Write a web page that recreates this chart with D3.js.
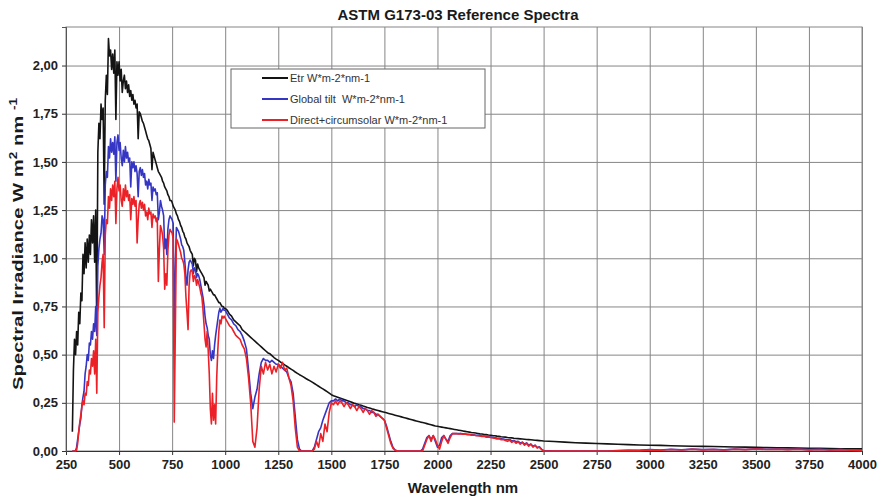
<!DOCTYPE html>
<html>
<head>
<meta charset="utf-8">
<script src="https://cdn.jsdelivr.net/npm/d3@7"></script>
<style>
  body { margin: 0; background: #fff; }
  text { font-family: "Liberation Sans", Arial, Helvetica, sans-serif; }
</style>
</head>
<body>
<svg id="chart" width="880" height="499"></svg>
<script>
// Wavelength sampling grid, nm
const wavelength = [
  280,285,290,295,300,305,310,315,320,325,
  330,335,340,345,350,355,360,365,370,375,
  380,385,390,395,400,405,410,415,420,425,
  430,435,440,445,450,455,460,465,470,475,
  480,485,490,495,500,505,510,515,520,525,
  530,535,540,545,550,555,560,565,570,575,
  580,585,590,595,600,605,610,615,620,625,
  630,635,640,645,650,655,660,665,670,675,
  680,685,690,695,700,705,710,715,720,725,
  730,735,740,745,750,755,760,765,770,775,
  780,785,790,795,800,805,810,815,820,825,
  830,835,840,845,850,855,860,865,870,875,
  880,885,890,895,900,905,910,915,920,925,
  930,935,940,945,950,955,960,965,970,975,
  980,985,990,995,1000,
  1010,1020,1030,1040,1050,1060,1070,1080,1090,1100,
  1110,1120,1130,1140,1150,1160,1170,1180,1190,1200,
  1210,1220,1230,1240,1250,1260,1270,1280,1290,1300,
  1310,1320,1330,1340,1350,1360,1370,1380,1390,1400,
  1410,1420,1430,1440,1450,1460,1470,1480,1490,1500,
  1510,1520,1530,1540,1550,1560,1570,1580,1590,1600,
  1610,1620,1630,1640,1650,1660,1670,1680,1690,1700,
  1710,1720,1730,1740,1750,1760,1770,1780,1790,1800,
  1810,1820,1830,1840,1850,1860,1870,1880,1890,1900,
  1910,1920,1930,1940,1950,1960,1970,1980,1990,2000,
  2010,2020,2030,2040,2050,2060,2070,2080,2090,2100,
  2110,2120,2130,2140,2150,2160,2170,2180,2190,2200,
  2210,2220,2230,2240,2250,2260,2270,2280,2290,2300,
  2310,2320,2330,2340,2350,2360,2370,2380,2390,2400,
  2410,2420,2430,2440,2450,2460,2470,2480,2490,2500,
  2550,2600,2650,2700,2750,2800,2850,2900,2950,3000,
  3050,3100,3150,3200,3250,3300,3350,3400,3450,3500,
  3550,3600,3650,3700,3750,3800,3850,3900,3950,4000
];

// Extraterrestrial spectrum, W m-2 nm-1
const etr = [
  0.10,0.42,0.58,0.50,0.62,0.55,0.72,0.66,0.82,0.78,
  1.02,0.92,1.08,0.95,1.10,0.98,1.12,1.02,1.20,1.08,
  1.22,0.98,1.25,0.62,1.55,1.70,1.62,1.80,1.72,1.78,
  1.28,1.82,1.95,1.85,2.14,2.05,2.08,1.98,2.06,1.96,
  2.08,1.72,2.02,1.95,2.02,1.92,1.98,1.86,1.92,1.95,
  1.88,1.92,1.86,1.90,1.84,1.87,1.82,1.85,1.80,1.82,
  1.78,1.80,1.62,1.76,1.75,1.73,1.71,1.70,1.68,1.66,
  1.64,1.62,1.61,1.59,1.57,1.46,1.55,1.53,1.51,1.49,
  1.47,1.45,1.44,1.43,1.42,1.40,1.39,1.37,1.36,1.35,
  1.33,1.32,1.30,1.30,1.29,1.27,1.26,1.25,1.23,1.22,
  1.20,1.19,1.17,1.16,1.14,1.13,1.11,1.10,1.08,1.07,
  1.06,1.04,1.03,1.02,0.96,1.00,0.99,0.93,0.97,0.95,
  0.94,0.93,0.92,0.91,0.90,0.86,0.88,0.87,0.86,0.83,
  0.84,0.83,0.82,0.81,0.81,0.80,0.79,0.78,0.77,0.77,
  0.76,0.75,0.75,0.74,0.74,
  0.73,0.71,0.70,0.68,0.67,0.66,0.65,0.63,0.62,0.61,
  0.60,0.59,0.58,0.57,0.56,0.55,0.54,0.53,0.52,0.51,
  0.505,0.495,0.485,0.477,0.47,0.462,0.455,0.447,0.44,0.432,
  0.425,0.418,0.41,0.403,0.396,0.39,0.383,0.376,0.37,0.364,
  0.357,0.35,0.343,0.336,0.329,0.322,0.315,0.308,0.300,0.292,
  0.287,0.283,0.279,0.275,0.271,0.267,0.263,0.259,0.255,0.251,
  0.247,0.244,0.240,0.237,0.233,0.230,0.226,0.223,0.219,0.216,
  0.213,0.210,0.207,0.204,0.201,0.198,0.195,0.192,0.189,0.186,
  0.183,0.180,0.177,0.174,0.171,0.168,0.165,0.162,0.159,0.156,
  0.153,0.150,0.148,0.145,0.142,0.139,0.136,0.133,0.130,0.128,
  0.126,0.124,0.122,0.120,0.118,0.116,0.114,0.112,0.110,0.108,
  0.106,0.104,0.102,0.100,0.098,0.096,0.095,0.093,0.091,0.089,
  0.088,0.086,0.085,0.083,0.082,0.080,0.079,0.077,0.076,0.074,
  0.073,0.072,0.070,0.069,0.068,0.066,0.065,0.064,0.063,0.062,
  0.061,0.060,0.059,0.058,0.057,0.056,0.055,0.054,0.053,0.052,
  0.049,0.046,0.043,0.041,0.039,0.037,0.035,0.033,0.031,0.030,
  0.029,0.027,0.026,0.025,0.024,0.023,0.022,0.021,0.020,0.019,
  0.018,0.017,0.016,0.015,0.014,0.0135,0.013,0.012,0.0115,0.011
];

// Global tilt (37 deg) spectrum, W m-2 nm-1
const globalTilt = [
  0,0,0,0,0.02,0.06,0.10,0.14,0.17,0.24,
  0.28,0.31,0.40,0.44,0.50,0.47,0.56,0.55,0.62,0.58,
  0.66,0.62,0.75,0.60,0.96,1.05,1.10,1.13,1.22,1.20,
  1.02,1.38,1.45,1.42,1.58,1.52,1.62,1.55,1.60,1.54,
  1.63,1.40,1.60,1.64,1.56,1.60,1.52,1.48,1.56,1.50,
  1.58,1.52,1.55,1.50,1.52,1.37,1.50,1.47,1.50,1.45,
  1.48,1.44,1.32,1.45,1.47,1.43,1.46,1.42,1.44,1.38,
  1.40,1.36,1.41,1.38,1.39,1.30,1.37,1.35,1.36,1.33,
  1.34,1.20,1.24,1.30,1.27,1.25,1.22,1.05,1.10,1.02,
  1.15,1.20,1.22,1.21,1.20,1.18,0.55,0.95,1.16,1.15,
  1.14,1.12,1.10,1.07,1.06,1.04,0.98,0.90,0.86,0.94,
  0.98,0.99,0.98,0.97,0.92,0.95,0.94,0.90,0.92,0.91,
  0.89,0.86,0.83,0.80,0.76,0.70,0.66,0.64,0.60,0.58,
  0.50,0.47,0.52,0.48,0.55,0.60,0.64,0.68,0.72,0.74,
  0.72,0.73,0.74,0.73,0.73,
  0.71,0.69,0.68,0.66,0.65,0.63,0.62,0.60,0.57,0.53,
  0.42,0.30,0.22,0.28,0.32,0.40,0.46,0.48,0.47,0.47,
  0.46,0.47,0.46,0.45,0.45,0.44,0.43,0.42,0.41,0.38,
  0.36,0.30,0.18,0.06,0.01,0,0,0,0,0,
  0,0.02,0.06,0.10,0.12,0.16,0.19,0.22,0.25,0.26,
  0.26,0.27,0.26,0.27,0.26,0.26,0.25,0.25,0.24,0.24,
  0.23,0.24,0.23,0.23,0.22,0.22,0.21,0.21,0.20,0.20,
  0.19,0.19,0.18,0.17,0.16,0.13,0.09,0.05,0.02,0.005,
  0,0,0,0,0,0,0,0,0,0,
  0,0,0.01,0.04,0.07,0.08,0.06,0.08,0.05,0.02,
  0.03,0.07,0.08,0.06,0.05,0.08,0.09,0.09,0.09,0.09,
  0.09,0.089,0.088,0.087,0.086,0.085,0.084,0.082,0.081,0.08,
  0.078,0.077,0.076,0.074,0.073,0.071,0.069,0.067,0.066,0.064,
  0.062,0.06,0.058,0.06,0.052,0.055,0.048,0.05,0.042,0.046,
  0.036,0.042,0.03,0.036,0.024,0.03,0.018,0.022,0.01,0.002,
  0,0,0,0,0,0,0.002,0.004,0.003,0.007,
  0.005,0.009,0.006,0.01,0.007,0.009,0.006,0.01,0.008,0.011,
  0.009,0.01,0.008,0.01,0.007,0.009,0.006,0.008,0.005,0.003
];

// Direct normal + circumsolar spectrum, W m-2 nm-1
const directCircumsolar = [
  0,0,0,0,0.005,0.04,0.10,0.15,0.19,0.23,
  0.26,0.24,0.30,0.29,0.36,0.34,0.42,0.40,0.48,0.44,
  0.52,0.40,0.58,0.30,0.72,0.80,0.86,0.90,0.98,1.02,
  0.64,1.12,1.20,1.18,1.32,1.26,1.36,1.30,1.38,1.32,
  1.40,1.18,1.36,1.42,1.35,1.38,1.30,1.27,1.36,1.30,
  1.38,1.32,1.35,1.30,1.33,1.20,1.31,1.28,1.32,1.27,
  1.30,1.08,1.20,1.28,1.30,1.26,1.29,1.25,1.28,1.22,
  1.24,1.20,1.26,1.23,1.24,1.16,1.23,1.21,1.22,1.19,
  1.21,0.88,1.05,1.17,1.15,1.12,1.05,0.84,0.92,0.86,
  1.04,1.12,1.15,1.14,1.13,1.10,0.15,0.62,1.10,1.09,
  1.07,1.05,1.03,1.00,0.99,0.97,0.92,0.80,0.72,0.63,
  0.86,0.93,0.94,0.93,0.88,0.91,0.90,0.86,0.89,0.87,
  0.85,0.82,0.80,0.74,0.66,0.58,0.54,0.62,0.52,0.40,
  0.22,0.14,0.30,0.16,0.24,0.14,0.38,0.52,0.62,0.68,
  0.66,0.70,0.69,0.70,0.69,
  0.67,0.65,0.64,0.62,0.60,0.59,0.58,0.55,0.53,0.48,
  0.38,0.25,0.05,0.02,0.12,0.32,0.44,0.40,0.46,0.42,
  0.45,0.40,0.44,0.41,0.45,0.43,0.46,0.42,0.43,0.38,
  0.34,0.26,0.12,0.02,0,0,0,0,0,0,
  0,0.01,0.05,0.02,0.09,0.05,0.14,0.10,0.20,0.25,
  0.24,0.26,0.24,0.26,0.25,0.23,0.25,0.24,0.22,0.24,
  0.23,0.21,0.23,0.22,0.20,0.22,0.21,0.19,0.21,0.20,
  0.18,0.19,0.18,0.17,0.16,0.12,0.08,0.04,0.015,0.005,
  0,0,0,0,0,0,0,0,0,0,
  0,0,0,0.03,0.06,0.08,0.05,0.08,0.06,0.03,
  0.01,0.05,0.08,0.06,0.04,0.07,0.09,0.09,0.09,0.088,
  0.09,0.087,0.088,0.085,0.086,0.082,0.083,0.08,0.079,0.078,
  0.075,0.076,0.072,0.073,0.07,0.068,0.066,0.062,0.064,0.058,
  0.06,0.055,0.05,0.056,0.045,0.052,0.04,0.048,0.035,0.045,
  0.03,0.04,0.025,0.035,0.02,0.03,0.015,0.02,0.008,0,
  0,0,0,0,0,0,0.001,0.003,0.002,0.006,
  0.004,0.008,0.005,0.009,0.006,0.008,0.005,0.009,0.007,0.01,
  0.008,0.009,0.007,0.009,0.006,0.008,0.005,0.007,0.004,0.002
];

const xTicks = [250,500,750,1000,1250,1500,1750,2000,2250,2500,2750,3000,3250,3500,3750,4000];
const yTicks = [0,0.25,0.5,0.75,1,1.25,1.5,1.75,2];
const seriesNames = ["Etr W*m-2*nm-1", "Global tilt  W*m-2*nm-1", "Direct+circumsolar W*m-2*nm-1"];
const seriesColors = ["#141414", "#3636c4", "#ec2127"];
const chartTitle = "ASTM G173-03 Reference Spectra";

const svg = d3.select("#chart");
const plot = { left: 66, right: 862, top: 27, bottom: 451 };

const x = d3.scaleLinear().domain([250, 4000]).range([plot.left, plot.right]);
const y = d3.scaleLinear().domain([0, 2.2]).range([plot.bottom, plot.top]);

const commaLocale = d3.formatLocale({ decimal: ",", thousands: "", grouping: [3], currency: ["", ""] });
const yFmt = commaLocale.format(".2f");

// Gridlines
svg.append("g")
  .attr("transform", `translate(0,${plot.bottom})`)
  .call(d3.axisBottom(x).tickValues(xTicks).tickSize(-(plot.bottom - plot.top)).tickFormat(""))
  .call(g => g.select(".domain").remove())
  .call(g => g.selectAll("line").attr("stroke", "#868686").attr("stroke-width", 1));

svg.append("g")
  .attr("transform", `translate(${plot.left},0)`)
  .call(d3.axisLeft(y).tickValues(yTicks).tickSize(-(plot.right - plot.left)).tickFormat(""))
  .call(g => g.select(".domain").remove())
  .call(g => g.selectAll("line").attr("stroke", "#868686").attr("stroke-width", 1));

// Plot frame
svg.append("rect")
  .attr("x", plot.left).attr("y", plot.top)
  .attr("width", plot.right - plot.left).attr("height", plot.bottom - plot.top)
  .attr("fill", "none").attr("stroke", "#868686").attr("stroke-width", 1);

// Axes with labels
const xAxis = svg.append("g")
  .attr("transform", `translate(0,${plot.bottom})`)
  .call(d3.axisBottom(x).tickValues(xTicks).tickSize(4).tickPadding(5).tickFormat(d3.format("d")));
xAxis.select(".domain").attr("stroke", "#333");
xAxis.selectAll("line").attr("stroke", "#333");
xAxis.selectAll("text").attr("font-size", 13).attr("font-weight", "bold").attr("fill", "#222")
  .attr("font-family", "'Liberation Sans', Arial, sans-serif");

const yAxis = svg.append("g")
  .attr("transform", `translate(${plot.left},0)`)
  .call(d3.axisLeft(y).tickValues(yTicks).tickSize(4).tickPadding(4).tickFormat(yFmt));
yAxis.select(".domain").attr("stroke", "#555");
yAxis.selectAll("line").attr("stroke", "#333");
yAxis.selectAll("text").attr("font-size", 13).attr("font-weight", "bold").attr("fill", "#222")
  .attr("font-family", "'Liberation Sans', Arial, sans-serif");

// Spectra
const seriesValues = [etr, globalTilt, directCircumsolar];
const line = d3.line().x(d => x(d.w)).y(d => y(d.v));
seriesValues.forEach((vals, i) => {
  const pts = wavelength.map((w, j) => ({ w, v: vals[j] })).filter(d => d.v !== undefined);
  svg.append("path")
    .datum(pts)
    .attr("d", line)
    .attr("fill", "none")
    .attr("stroke", seriesColors[i])
    .attr("stroke-width", 1.6)
    .attr("stroke-linejoin", "round");
});

// Title
svg.append("text")
  .attr("x", 458).attr("y", 20)
  .attr("text-anchor", "middle")
  .attr("font-size", 15).attr("font-weight", "bold").attr("fill", "#1a1a1a")
  .text(chartTitle);

// X axis title
svg.append("text")
  .attr("x", 463).attr("y", 493)
  .attr("text-anchor", "middle")
  .attr("font-size", 15).attr("font-weight", "bold").attr("fill", "#1a1a1a")
  .text("Wavelength nm");

// Y axis title with superscripts, stretched along its baseline
const yTitleG = svg.append("g").attr("transform", "translate(23,244) rotate(-90)");
const yTitle = yTitleG.append("text")
  .attr("text-anchor", "middle")
  .attr("font-size", 15).attr("font-weight", "bold").attr("fill", "#1a1a1a");
yTitle.append("tspan").text("Spectral Irradiance W m");
yTitle.append("tspan").attr("font-size", 10).attr("dy", -6).text("2");
yTitle.append("tspan").attr("dy", 6).text(" nm ");
yTitle.append("tspan").attr("font-size", 10).attr("dy", -6).text("-1");
const yw = yTitle.node().getComputedTextLength();
yTitle.attr("transform", `scale(${292 / yw},1)`);

// Legend
const legend = svg.append("g");
legend.append("rect")
  .attr("x", 231).attr("y", 69).attr("width", 254).attr("height", 59)
  .attr("fill", "#fff").attr("stroke", "#666").attr("stroke-width", 1);
seriesNames.forEach((name, i) => {
  const ly = 78 + i * 21;
  legend.append("line")
    .attr("x1", 262).attr("x2", 288).attr("y1", ly).attr("y2", ly)
    .attr("stroke", seriesColors[i]).attr("stroke-width", 2);
  legend.append("text")
    .attr("x", 290).attr("y", ly).attr("dy", "0.35em")
    .attr("font-size", 11).attr("fill", "#333")
    .attr("xml:space", "preserve")
    .style("white-space", "pre")
    .text(name);
});
</script>
</body>
</html>
